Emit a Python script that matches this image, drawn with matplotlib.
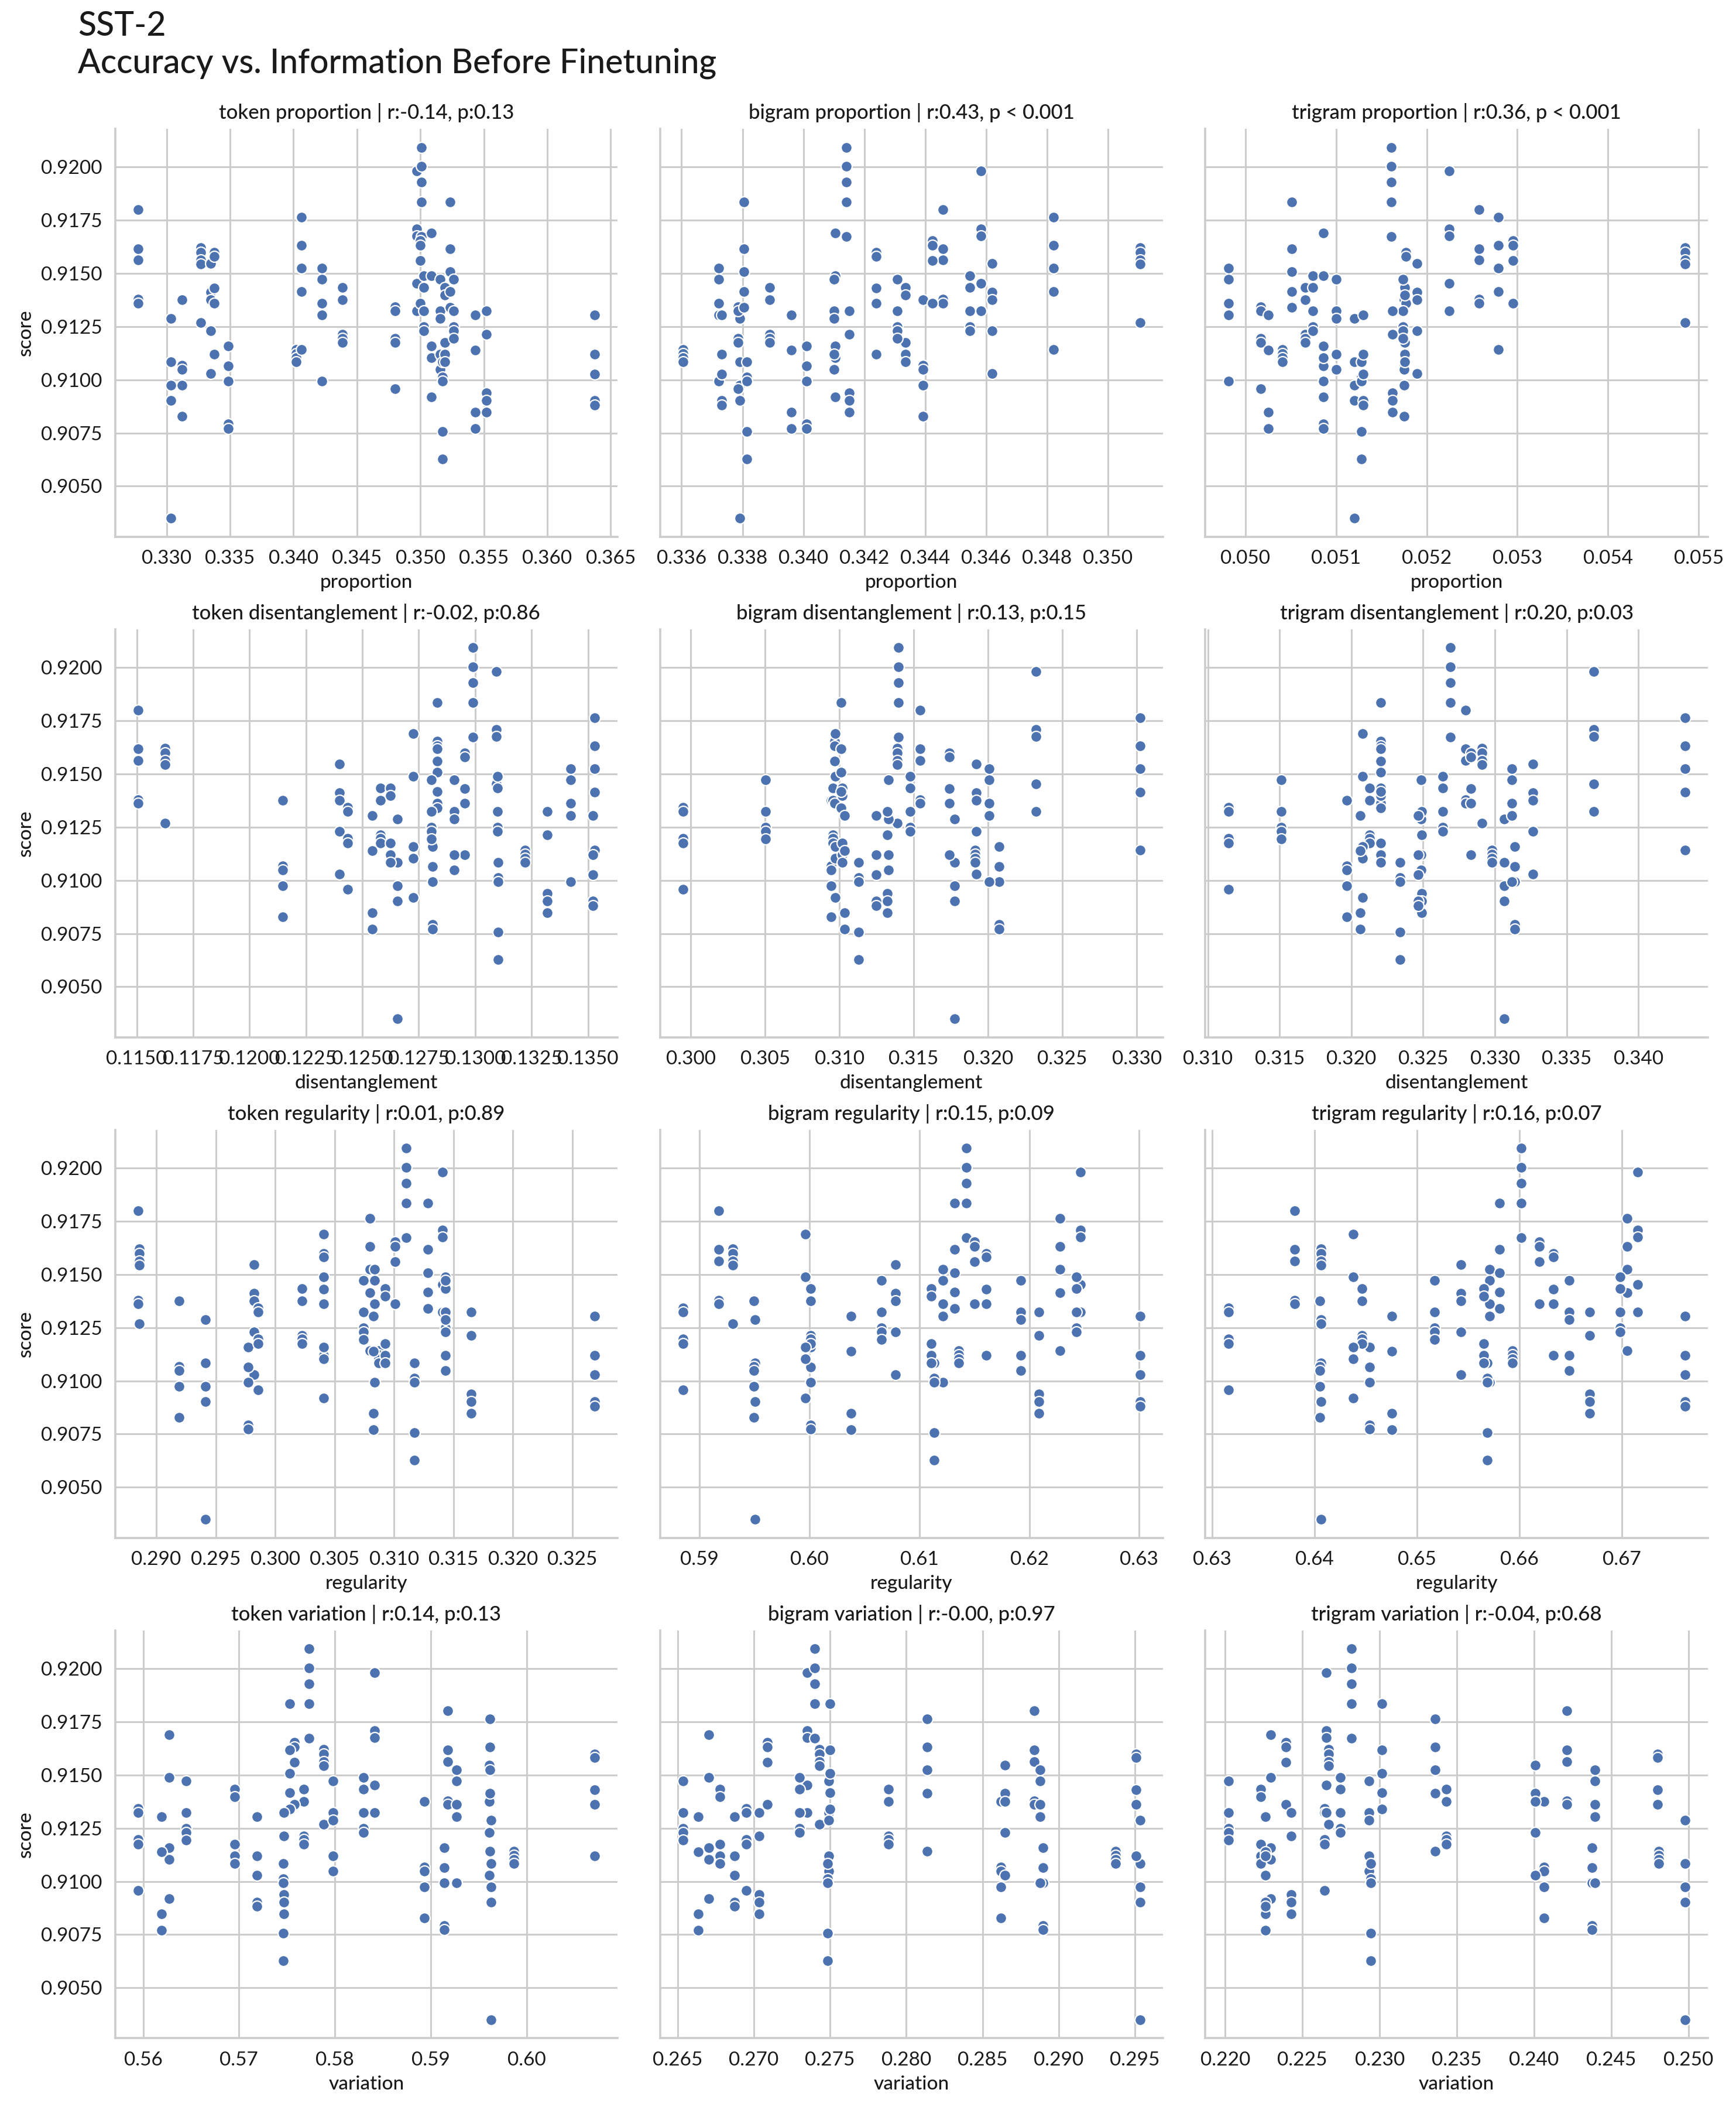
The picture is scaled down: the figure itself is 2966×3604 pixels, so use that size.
import numpy as np
import matplotlib
matplotlib.use("Agg")
import matplotlib.pyplot as plt
from matplotlib.ticker import MultipleLocator, FormatStrFormatter
import seaborn as sns

# finetuning scores, one list per pretrained configuration (seeds)
group_scores = [
    [0.91801, 0.91617, 0.91563, 0.91379, 0.91361],
    [0.91287, 0.91085, 0.90975, 0.90903, 0.90350],
    [0.91377, 0.91067, 0.91049, 0.90975, 0.90829],
    [0.91620, 0.91599, 0.91563, 0.91545, 0.91269],
    [0.91546, 0.91413, 0.91377, 0.91231, 0.91030],
    [0.91599, 0.91581, 0.91431, 0.91361, 0.91121],
    [0.91159, 0.91064, 0.90994, 0.90793, 0.90772],
    [0.91142, 0.91124, 0.91103, 0.91085],
    [0.91763, 0.91633, 0.91525, 0.91415, 0.91141],
    [0.91525, 0.91472, 0.91361, 0.91305, 0.90994],
    [0.91433, 0.91377, 0.91214, 0.91196, 0.91175],
    [0.91343, 0.91323, 0.91196, 0.91175, 0.90958],
    [0.91982, 0.91708, 0.91675, 0.91452, 0.91323],
    [0.92093, 0.92003, 0.91928, 0.91835, 0.91674],
    [0.91654, 0.91633, 0.91561, 0.91361],
    [0.91488, 0.91433, 0.91323, 0.91250, 0.91231],
    [0.91689, 0.91488, 0.91159, 0.91103, 0.90919],
    [0.91472, 0.91323, 0.91287, 0.91121, 0.91049],
    [0.91085, 0.91012, 0.90994, 0.90756, 0.90627],
    [0.91434, 0.91397, 0.91175, 0.91121, 0.91085],
    [0.91835, 0.91617, 0.91507, 0.91416, 0.91341],
    [0.91472, 0.91323, 0.91250, 0.91231, 0.91195],
    [0.91305, 0.91139, 0.90847, 0.90771],
    [0.91323, 0.91214, 0.90939, 0.90903, 0.90847],
    [0.91305, 0.91120, 0.91028, 0.90903, 0.90882],
]

# information measures before finetuning, one value per configuration
token_proportion = [0.32774, 0.33035, 0.33123, 0.33270, 0.33349, 0.33374, 0.33484, 0.34019, 0.34063,
                    0.34223, 0.34387, 0.34802, 0.34969, 0.35009, 0.35000, 0.35028, 0.35085, 0.35154,
                    0.35173, 0.35195, 0.35233, 0.35264, 0.35431, 0.35519, 0.36374]
bigram_proportion = [0.34459, 0.33791, 0.34393, 0.35105, 0.34620, 0.34239, 0.34011, 0.33605, 0.34822,
                     0.33722, 0.33889, 0.33786, 0.34583, 0.34142, 0.34423, 0.34547, 0.34105, 0.34101,
                     0.33815, 0.34336, 0.33805, 0.34308, 0.33960, 0.34151, 0.33731]
trigram_proportion = [0.05258, 0.05120, 0.05175, 0.05485, 0.05189, 0.05177, 0.05086, 0.05041, 0.05279,
                      0.04981, 0.05066, 0.05017, 0.05225, 0.05161, 0.05295, 0.05074, 0.05086, 0.05100,
                      0.05128, 0.05176, 0.05051, 0.05174, 0.05025, 0.05162, 0.05130]
token_disentanglement = [0.11505, 0.12655, 0.12147, 0.11624, 0.12398, 0.12955, 0.12810, 0.13220, 0.13530,
                         0.13424, 0.12580, 0.12435, 0.13093, 0.12989, 0.12831, 0.13100, 0.12725, 0.12906,
                         0.13102, 0.12624, 0.12833, 0.12805, 0.12545, 0.13319, 0.13523]
bigram_disentanglement = [0.31543, 0.31776, 0.30946, 0.31388, 0.31921, 0.31739, 0.32073, 0.31914, 0.33021,
                          0.32006, 0.30957, 0.29949, 0.32322, 0.31398, 0.30969, 0.31474, 0.30973, 0.31331,
                          0.31128, 0.31019, 0.31012, 0.30505, 0.31036, 0.31324, 0.31248]
trigram_disentanglement = [0.32797, 0.33065, 0.31967, 0.32909, 0.33263, 0.32831, 0.33139, 0.32978, 0.34325,
                           0.33117, 0.32125, 0.31142, 0.33688, 0.32689, 0.32204, 0.32636, 0.32079, 0.32487,
                           0.32340, 0.32203, 0.32205, 0.31513, 0.32060, 0.32489, 0.32467]
token_regularity = [0.28846, 0.29416, 0.29191, 0.28856, 0.29822, 0.30409, 0.29772, 0.30869, 0.30795,
                    0.30836, 0.30228, 0.29856, 0.31406, 0.31101, 0.31007, 0.31430, 0.30407, 0.31432,
                    0.31171, 0.30926, 0.31285, 0.30745, 0.30826, 0.31648, 0.32688]
bigram_regularity = [0.59175, 0.59502, 0.59493, 0.59303, 0.60785, 0.61608, 0.60011, 0.61356, 0.62279,
                     0.61215, 0.60009, 0.58850, 0.62466, 0.61427, 0.61502, 0.62429, 0.59964, 0.61924,
                     0.61134, 0.61109, 0.61318, 0.60657, 0.60379, 0.62089, 0.63006]
trigram_regularity = [0.63803, 0.64063, 0.64053, 0.64065, 0.65427, 0.66330, 0.64538, 0.65930, 0.67051,
                      0.65708, 0.64463, 0.63157, 0.67154, 0.66015, 0.66193, 0.66980, 0.64378, 0.66484,
                      0.65684, 0.65653, 0.65803, 0.65171, 0.64754, 0.66682, 0.67615]
token_variation = [0.59175, 0.59629, 0.58934, 0.57885, 0.59612, 0.60711, 0.59142, 0.59866, 0.59620,
                   0.59267, 0.57673, 0.55946, 0.58414, 0.57731, 0.57581, 0.58297, 0.56270, 0.57981,
                   0.57465, 0.56957, 0.57531, 0.56449, 0.56191, 0.57468, 0.57190]
bigram_variation = [0.28840, 0.29533, 0.28622, 0.27429, 0.28647, 0.29509, 0.28896, 0.29374, 0.28136,
                    0.28878, 0.27884, 0.26952, 0.27348, 0.27398, 0.27087, 0.27299, 0.26705, 0.27490,
                    0.27483, 0.26777, 0.27501, 0.26536, 0.26635, 0.27036, 0.26874]
trigram_variation = [0.24211, 0.24977, 0.24063, 0.22671, 0.24007, 0.24800, 0.24374, 0.24805, 0.23360,
                     0.24392, 0.23431, 0.22644, 0.22655, 0.22816, 0.22395, 0.22744, 0.22293, 0.22930,
                     0.22941, 0.22229, 0.23016, 0.22020, 0.22259, 0.22429, 0.22262]

panels = [
    (token_proportion, "proportion", "token proportion | r:-0.14, p:0.13"),
    (bigram_proportion, "proportion", "bigram proportion | r:0.43, p < 0.001"),
    (trigram_proportion, "proportion", "trigram proportion | r:0.36, p < 0.001"),
    (token_disentanglement, "disentanglement", "token disentanglement | r:-0.02, p:0.86"),
    (bigram_disentanglement, "disentanglement", "bigram disentanglement | r:0.13, p:0.15"),
    (trigram_disentanglement, "disentanglement", "trigram disentanglement | r:0.20, p:0.03"),
    (token_regularity, "regularity", "token regularity | r:0.01, p:0.89"),
    (bigram_regularity, "regularity", "bigram regularity | r:0.15, p:0.09"),
    (trigram_regularity, "regularity", "trigram regularity | r:0.16, p:0.07"),
    (token_variation, "variation", "token variation | r:0.14, p:0.13"),
    (bigram_variation, "variation", "bigram variation | r:-0.00, p:0.97"),
    (trigram_variation, "variation", "trigram variation | r:-0.04, p:0.68"),
]

# x tick spacing used in each panel (reference has a narrower font, so more ticks)
x_steps = [0.005, 0.002, 0.001,
           0.0025, 0.005, 0.005,
           0.005, 0.01, 0.01,
           0.01, 0.005, 0.005]
x_formats = ['%.3f', '%.3f', '%.3f',
             '%.4f', '%.3f', '%.3f',
             '%.3f', '%.2f', '%.2f',
             '%.2f', '%.3f', '%.3f']


def expand(xvals):
    xs, ys = [], []
    for xv, sc in zip(xvals, group_scores):
        xs += [xv] * len(sc)
        ys += sc
    return np.array(xs), np.array(ys)


sns.set_theme(style="whitegrid")
plt.rcParams['font.family'] = ['Lato', 'DejaVu Sans']
plt.rcParams['text.color'] = '.1'
plt.rcParams['axes.labelcolor'] = '.1'
plt.rcParams['xtick.color'] = '.1'
plt.rcParams['ytick.color'] = '.1'

fig, axes = plt.subplots(4, 3, figsize=(14.83, 18.02), dpi=200, sharey=True)
fig.subplots_adjust(left=0.0663, right=0.9838, bottom=0.034, top=0.939, wspace=0.085, hspace=0.227)

for ax, (xvals, xlab, title), step, fmt in zip(axes.flat, panels, x_steps, x_formats):
    x, y = expand(xvals)
    ax.scatter(x, y, s=46, color='#4C72B0', edgecolor='white', linewidth=0.8, zorder=3)
    ax.set_title(title, fontsize=12.5, pad=6, fontweight='medium')
    ax.set_xlabel(xlab, fontsize=12, labelpad=4, fontweight='medium')
    ax.xaxis.set_major_locator(MultipleLocator(step))
    ax.xaxis.set_major_formatter(FormatStrFormatter(fmt))
    ax.tick_params(labelsize=12, length=0, pad=8)
    ax.grid(True, color='#cccccc', linewidth=1.1)
    for s in ['left', 'bottom']:
        ax.spines[s].set_color('#cccccc')
        ax.spines[s].set_linewidth(1.3)

for ax in axes[:, 0]:
    ax.set_ylabel("score", fontsize=12, fontweight='medium')
    ax.yaxis.set_major_formatter(FormatStrFormatter('%.4f'))

sns.despine(fig)

fig.text(0.045, 0.995, "SST-2\nAccuracy vs. Information Before Finetuning",
         ha='left', va='top', fontsize=20.5, linespacing=1.25, fontweight='medium')

fig.savefig("out.png", dpi=200)
